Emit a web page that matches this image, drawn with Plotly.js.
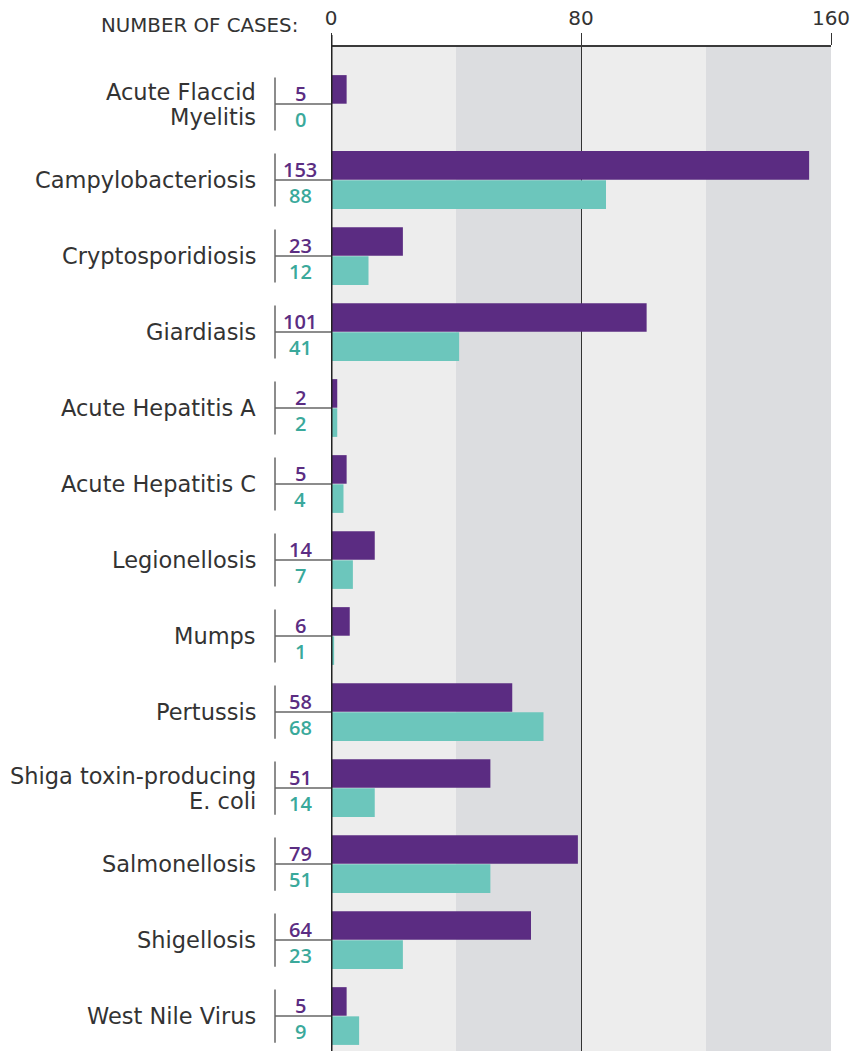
<!DOCTYPE html>
<html><head><meta charset="utf-8">
<script src="https://cdn.plot.ly/plotly-3.0.1.min.js"></script>
<style>html,body{margin:0;padding:0;background:#fff}#chart{width:851px;height:1051px}</style>
</head><body><div id="chart"></div>
<script>
const categories = ["Acute Flaccid<br>Myelitis","Campylobacteriosis","Cryptosporidiosis","Giardiasis","Acute Hepatitis A","Acute Hepatitis C","Legionellosis","Mumps","Pertussis","Shiga toxin-producing<br>E. coli","Salmonellosis","Shigellosis","West Nile Virus"];
const seriesA = [5,153,23,101,2,5,14,6,58,51,79,64,5];
const seriesB = [0,88,12,41,2,4,7,1,68,14,51,23,9];
const xTicks = [0,80,160];

const PURPLE = "#5b2c82", TEAL = "#6cc6bc", PURPLE_T = "#5b2d82", TEAL_T = "#3aa99b";
const idx = categories.map((c,i)=>i);

const traces = [
  {type:"bar", orientation:"h", y:idx, x:seriesA, marker:{color:PURPLE}, offset:-0.38, width:0.376, hoverinfo:"skip"},
  {type:"bar", orientation:"h", y:idx, x:seriesB, marker:{color:TEAL}, offset:0.004, width:0.376, hoverinfo:"skip"}
];

const bx = -0.112; // bracket x in paper units
const shapes = [
  {type:"rect", xref:"x", yref:"paper", x0:40, x1:80, y0:0, y1:1, fillcolor:"#dcdde0", line:{width:0}, layer:"below"},
  {type:"rect", xref:"x", yref:"paper", x0:120, x1:160, y0:0, y1:1, fillcolor:"#dcdde0", line:{width:0}, layer:"below"},
  {type:"line", xref:"x", yref:"paper", x0:0, x1:0, y0:0, y1:1.012, line:{color:"#222", width:3}, layer:"above"}
];
idx.forEach(i=>{
  shapes.push({type:"line", xref:"paper", yref:"y", x0:bx, x1:bx, y0:i-0.35, y1:i+0.35, line:{color:"#666", width:1.5}});
  shapes.push({type:"line", xref:"paper", yref:"y", x0:bx, x1:0, y0:i, y1:i, line:{color:"#666", width:1.5}});
});

const labelFont = {family:"DejaVu Sans", size:22.5, color:"#333"};
const annotations = [
  {xref:"paper", yref:"paper", x:-0.062, y:1.0219, xanchor:"right", yanchor:"middle", showarrow:false,
   text:"NUMBER OF CASES:", font:{family:"DejaVu Sans", size:19.8, color:"#333"}}
];
idx.forEach(i=>{
  const lines = categories[i].split("<br>");
  lines.forEach((ln,k)=>{
    const shift = lines.length === 1 ? 0 : (k === 0 ? 12.5 : -13);
    annotations.push({xref:"paper", yref:"y", x:-0.146, y:i, yshift:shift, xanchor:"right", yanchor:"middle",
      showarrow:false, text:ln, font:labelFont});
  });
  annotations.push({xref:"paper", yref:"y", x:-0.062, y:i, yshift:11, xanchor:"center", yanchor:"middle", showarrow:false,
    text:String(seriesA[i]), font:{family:"Open Sans", size:20, weight:600, color:PURPLE_T}});
  annotations.push({xref:"paper", yref:"y", x:-0.062, y:i, yshift:-15, xanchor:"center", yanchor:"middle", showarrow:false,
    text:String(seriesB[i]), font:{family:"Open Sans", size:20, weight:600, color:TEAL_T}});
});

const layout = {
  width:851, height:1051,
  margin:{l:331, r:20, t:47, b:0},
  paper_bgcolor:"#fff", plot_bgcolor:"#ededed",
  showlegend:false, barmode:"overlay",
  xaxis:{side:"top", range:[0,160], tickvals:xTicks, ticktext:xTicks.map(String),
    showgrid:true, gridcolor:"#333", gridwidth:1, zeroline:false,
    showline:true, linecolor:"#3a3a3a", linewidth:2,
    ticks:"outside", ticklen:12, tickwidth:1, tickcolor:"#333",
    tickfont:{family:"DejaVu Sans", size:20, color:"#333"}, fixedrange:true},
  yaxis:{type:"linear", range:[12.46,-0.75], tickvals:idx, showticklabels:false,
    showgrid:false, zeroline:false, showline:false, ticks:"", fixedrange:true},
  shapes, annotations
};
Plotly.newPlot("chart", traces, layout, {displayModeBar:false, staticPlot:true});
</script></body></html>
